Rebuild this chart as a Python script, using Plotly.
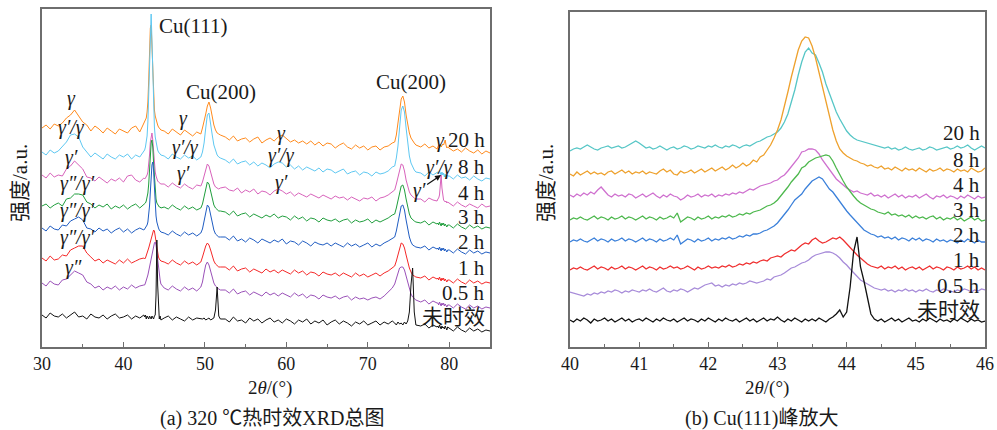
import itertools
import numpy as np
import plotly.graph_objects as go

# ---------------------------------------------------------------------------
# Full XRD scan (2θ = 30–85°): sampling segments (start, stop, points),
# denser around the diffraction peaks
# ---------------------------------------------------------------------------
SCAN_SEGMENTS = [(30.0, 42.5, 26), (42.6, 44.6, 21), (45.0, 49.5, 10),
                 (49.7, 51.9, 12), (52.5, 73.0, 42), (73.3, 75.9, 14),
                 (76.5, 78.5, 5), (78.6, 79.8, 13), (80.0, 85.0, 11)]
two_theta_full = np.concatenate([np.linspace(a, b, n) for a, b, n in SCAN_SEGMENTS])

# intensities (a.u., stacked with offsets), one sub-list per sampling segment
full_20h = [
    [219, 222, 218, 223, 221, 224, 229, 232, 237, 231, 225, 222, 216, 221, 218, 214, 219, 216, 213, 218, 216, 214, 219, 221, 215, 224],
    [225, 227, 229, 235, 245, 267, 297, 319, 322, 302, 267, 247, 237, 231, 227, 224, 222, 220, 219, 218, 217],
    [216, 213, 218, 215, 212, 217, 214, 211, 215, 213],
    [219, 225, 233, 241, 245, 239, 229, 222, 217, 214, 213, 212],
    [210, 207, 211, 206, 208, 209, 205, 208, 210, 204, 207, 209, 206, 210, 212, 208, 205, 207, 204, 206,
     203, 206, 202, 205, 201, 204, 203, 199, 202, 204, 200, 198, 202, 199, 201, 197, 200, 201, 197, 200, 201, 204],
    [205, 212, 223, 237, 248, 251, 245, 232, 221, 214, 209, 206, 204, 202],
    [200, 203, 199, 201, 198],
    [200, 202, 199, 203, 200, 201, 203, 202, 205, 207, 202, 199, 200],
    [199, 196, 198, 195, 199, 196, 194, 197, 193, 196, 194],
]
full_8h = [
    [195, 192, 197, 194, 196, 200, 205, 212, 213, 210, 200, 195, 190, 194, 191, 188, 193, 190, 188, 192, 190, 193, 188, 192, 190, 196],
    [197, 200, 204, 211, 225, 252, 292, 329, 333, 307, 267, 237, 220, 210, 204, 200, 197, 195, 194, 193, 192],
    [191, 188, 193, 190, 188, 192, 189, 191, 187, 190],
    [195, 204, 219, 232, 234, 225, 212, 202, 196, 192, 190, 189],
    [187, 184, 188, 183, 185, 186, 182, 185, 181, 184, 182, 179, 183, 185, 184, 180, 182, 178, 181, 177,
     180, 178, 176, 179, 175, 178, 177, 174, 176, 178, 173, 175, 176, 172, 175, 174, 171, 175, 173, 174, 176, 180],
    [181, 189, 201, 219, 237, 241, 235, 219, 202, 191, 184, 180, 177, 175],
    [174, 171, 175, 172, 174],
    [175, 173, 176, 174, 172, 175, 172, 174, 170, 173, 170, 172, 171],
    [171, 168, 172, 169, 170, 167, 171, 168, 166, 169, 168],
]
full_4h = [
    [172, 169, 174, 170, 172, 171, 178, 181, 186, 182, 178, 170, 169, 166, 170, 167, 164, 168, 166, 169, 165, 171, 172, 167, 165, 169],
    [168, 169, 170, 172, 175, 181, 192, 205, 213, 214, 207, 192, 181, 175, 171, 168, 166, 165, 164, 163, 163],
    [163, 160, 164, 161, 159, 163, 160, 158, 162, 161],
    [165, 171, 179, 183, 181, 174, 167, 163, 160, 159, 158, 159],
    [160, 157, 156, 159, 154, 157, 155, 158, 153, 156, 155, 152, 156, 158, 156, 153, 155, 151, 154, 152,
     150, 153, 151, 149, 152, 150, 148, 151, 149, 150, 147, 150, 148, 146, 149, 148, 150, 146, 149, 150, 152, 155],
    [157, 163, 170, 178, 183, 182, 176, 167, 160, 155, 152, 150, 149, 148],
    [148, 145, 149, 147, 146],
    [148, 149, 152, 161, 172, 159, 150, 147, 146, 145, 146, 144, 145],
    [144, 141, 145, 142, 140, 143, 141, 139, 143, 140, 141],
]
full_3h = [
    [141, 143, 139, 142, 144, 141, 148, 149, 153, 153, 152, 145, 143, 139, 142, 140, 143, 138, 141, 139, 142, 138, 141, 143, 139, 143],
    [143, 144, 146, 149, 154, 163, 177, 192, 204, 207, 200, 184, 167, 155, 148, 144, 142, 141, 140, 140, 139],
    [140, 138, 142, 139, 137, 141, 138, 140, 137, 139],
    [143, 150, 159, 165, 163, 155, 147, 142, 139, 137, 136, 136],
    [135, 132, 136, 131, 133, 134, 130, 133, 131, 129, 132, 130, 133, 129, 131, 130, 127, 131, 128, 130,
     126, 129, 128, 125, 129, 127, 126, 128, 125, 127, 128, 124, 127, 125, 126, 128, 124, 127, 125, 127, 129, 132],
    [133, 139, 146, 154, 161, 162, 157, 148, 139, 133, 129, 127, 126, 125],
    [124, 126, 122, 125, 123],
    [124, 122, 125, 123, 121, 124, 122, 124, 121, 123, 122, 120, 122],
    [122, 119, 123, 120, 118, 122, 119, 121, 118, 120, 119],
]
full_2h = [
    [119, 116, 121, 118, 117, 122, 121, 126, 128, 130, 127, 119, 118, 115, 119, 116, 118, 114, 117, 119, 115, 118, 114, 117, 119, 117],
    [118, 119, 120, 122, 125, 131, 141, 155, 170, 182, 185, 177, 160, 142, 131, 125, 121, 119, 117, 116, 115],
    [114, 112, 116, 113, 111, 115, 112, 114, 111, 114],
    [118, 126, 136, 142, 140, 132, 123, 117, 113, 111, 110, 110],
    [110, 107, 111, 106, 108, 105, 109, 107, 104, 108, 106, 104, 107, 105, 108, 103, 106, 105, 102, 106,
     104, 101, 105, 103, 102, 104, 101, 104, 102, 100, 104, 101, 103, 100, 102, 104, 100, 103, 101, 104, 106, 109],
    [110, 116, 124, 134, 141, 142, 137, 127, 117, 110, 105, 102, 101, 100],
    [99, 101, 97, 100, 98],
    [99, 97, 100, 98, 96, 99, 97, 99, 96, 98, 97, 95, 97],
    [97, 94, 98, 95, 93, 97, 94, 96, 93, 95, 94],
]
full_1h = [
    [89, 86, 91, 87, 88, 92, 91, 97, 99, 101, 101, 94, 90, 86, 88, 84, 87, 85, 83, 87, 84, 88, 84, 86, 88, 89],
    [88, 89, 91, 93, 96, 99, 102, 105, 109, 113, 116, 117, 116, 111, 104, 98, 93, 90, 88, 87, 86],
    [85, 83, 87, 84, 82, 86, 83, 85, 82, 85],
    [90, 96, 101, 104, 102, 97, 91, 86, 83, 81, 80, 80],
    [80, 77, 81, 76, 78, 79, 75, 78, 76, 74, 78, 75, 77, 74, 77, 75, 73, 77, 74, 76,
     72, 75, 74, 71, 75, 73, 72, 74, 71, 74, 72, 70, 74, 71, 73, 70, 72, 74, 71, 74, 76, 79],
    [81, 86, 93, 100, 104, 103, 99, 92, 85, 79, 75, 72, 71, 70],
    [69, 71, 67, 70, 68],
    [69, 67, 70, 68, 66, 69, 67, 69, 66, 68, 67, 65, 67],
    [67, 64, 68, 65, 63, 67, 64, 66, 63, 65, 64],
]
full_05h = [
    [64, 61, 66, 63, 62, 67, 68, 72, 76, 74, 72, 65, 63, 59, 61, 57, 60, 58, 61, 57, 60, 58, 62, 59, 61, 62],
    [62, 64, 66, 69, 72, 76, 80, 85, 90, 95, 99, 102, 104, 105, 102, 95, 87, 79, 72, 67, 63],
    [59, 57, 61, 58, 56, 60, 57, 59, 56, 60],
    [65, 74, 82, 85, 82, 76, 69, 64, 61, 59, 58, 57],
    [57, 54, 58, 53, 55, 56, 52, 55, 53, 51, 55, 52, 54, 51, 54, 52, 50, 54, 51, 53,
     49, 52, 51, 48, 52, 50, 49, 51, 48, 50, 51, 47, 50, 48, 49, 47, 49, 50, 48, 51, 55, 59],
    [63, 69, 75, 79, 80, 80, 77, 71, 64, 58, 53, 50, 48, 47],
    [45, 47, 43, 46, 44],
    [44, 42, 45, 43, 41, 44, 42, 44, 41, 43, 42, 40, 42],
    [42, 39, 43, 40, 38, 42, 39, 41, 38, 40, 39],
]
full_0h = [
    [32, 29, 34, 31, 30, 33, 29, 32, 35, 30, 31, 28, 33, 30, 29, 32, 28, 31, 33, 29, 30, 32, 28, 31, 29, 32],
    [30, 32, 28, 31, 30, 28, 31, 30, 28, 31, 30, 28, 31, 32, 52, 107, 62, 33, 28, 31, 27],
    [29, 31, 27, 30, 28, 26, 30, 27, 29, 28],
    [28, 29, 27, 28, 29, 27, 28, 29, 37, 60, 31, 28],
    [28, 25, 30, 26, 27, 24, 29, 26, 28, 24, 27, 29, 25, 27, 24, 28, 26, 23, 27, 25,
     28, 23, 26, 24, 27, 22, 25, 27, 23, 26, 24, 21, 25, 23, 26, 22, 24, 26, 22, 25, 23, 26],
    [24, 22, 25, 23, 24, 22, 25, 23, 26, 35, 62, 79, 35, 22],
    [21, 23, 19, 22, 20],
    [21, 19, 22, 20, 18, 21, 19, 20, 18, 21, 19, 17, 20],
    [19, 16, 20, 17, 15, 19, 16, 18, 15, 17, 16],
]

# ---------------------------------------------------------------------------
# Zoomed scan around the Cu(111) peak (2θ = 40–46°, step 0.05°)
# ---------------------------------------------------------------------------
two_theta_zoom = np.round(np.linspace(40.0, 46.0, 121), 2)

zoom_20h = [196, 198, 199, 198, 200, 202, 200, 198, 197, 199,
            200, 201, 199, 200, 201, 199, 200, 202, 204, 206,
            204, 201, 199, 200, 198, 199, 201, 199, 197, 199,
            200, 198, 199, 201, 200, 198, 199, 201, 200, 199,
            201, 200, 202, 200, 199, 201, 200, 202, 201, 199,
            201, 202, 201, 203, 205, 206, 208, 210, 211, 213,
            215, 219, 225, 233, 244, 257, 272, 285, 295, 299,
            294, 292, 284, 275, 263, 253, 243, 235, 228, 222,
            216, 212, 209, 207, 206, 205, 204, 203, 202, 201,
            200, 199, 200, 198, 199, 197, 198, 200, 198, 197,
            198, 199, 197, 198, 200, 199, 197, 198, 199, 200,
            198, 199, 201, 199, 200, 202, 199, 197, 199, 201,
            199]
zoom_8h = [173, 171, 175, 172, 174, 176, 173, 175, 173, 174,
           172, 175, 176, 173, 175, 177, 174, 176, 173, 175,
           174, 176, 173, 175, 174, 173, 176, 178, 175, 177,
           173, 172, 176, 174, 175, 177, 174, 176, 178, 175,
           177, 179, 176, 178, 180, 177, 179, 182, 179, 181,
           184, 181, 183, 187, 185, 190, 192, 197, 202, 209,
           217, 227, 240, 255, 270, 284, 297, 306, 310, 309,
           301, 289, 275, 260, 245, 230, 217, 206, 198, 194,
           191, 189, 187, 186, 184, 183, 181, 182, 180, 179,
           181, 178, 179, 177, 180, 178, 176, 179, 177, 178,
           176, 179, 177, 175, 178, 176, 177, 179, 176, 178,
           177, 175, 178, 176, 177, 175, 179, 177, 175, 176,
           179]
zoom_4h = [152, 150, 153, 151, 154, 152, 155, 153, 157, 160,
           156, 152, 150, 153, 151, 152, 150, 153, 152, 149,
           151, 153, 150, 152, 154, 151, 149, 152, 150, 153,
           151, 150, 147, 149, 152, 150, 151, 153, 150, 152,
           151, 153, 150, 152, 151, 153, 152, 154, 153, 155,
           154, 156, 158, 157, 159, 161, 162, 163, 164, 166,
           167, 170, 172, 176, 180, 185, 189, 195, 196, 198,
           198, 197, 193, 187, 182, 177, 172, 168, 165, 162,
           159, 157, 155, 156, 154, 153, 152, 154, 151, 152,
           150, 152, 149, 151, 153, 150, 152, 149, 151, 150,
           152, 149, 151, 153, 150, 148, 151, 150, 152, 149,
           151, 150, 148, 151, 149, 152, 150, 148, 151, 149,
           150]
zoom_3h = [127, 129, 128, 130, 128, 127, 129, 131, 128, 130,
           129, 127, 130, 128, 129, 131, 128, 130, 129, 127,
           129, 131, 128, 130, 129, 127, 130, 128, 129, 131,
           129, 134, 125, 128, 130, 129, 127, 130, 128, 129,
           131, 128, 130, 129, 131, 130, 132, 130, 131, 133,
           132, 134, 133, 135, 136, 137, 139, 141, 142, 144,
           147, 151, 155, 160, 165, 169, 173, 179, 181, 185,
           187, 189, 190, 191, 192, 191, 186, 179, 172, 166,
           160, 155, 151, 147, 144, 142, 140, 138, 137, 135,
           134, 133, 135, 132, 133, 131, 132, 130, 132, 129,
           131, 129, 130, 128, 130, 131, 128, 130, 127, 129,
           128, 130, 127, 129, 126, 128, 130, 127, 129, 126,
           127]
zoom_2h = [105, 107, 106, 108, 106, 105, 107, 109, 106, 108,
           107, 105, 108, 106, 107, 109, 106, 108, 107, 105,
           107, 109, 106, 108, 107, 105, 108, 106, 107, 109,
           107, 112, 103, 106, 108, 107, 105, 108, 106, 107,
           109, 106, 108, 107, 109, 108, 110, 108, 109, 111,
           110, 112, 111, 113, 113, 114, 116, 117, 119, 121,
           124, 128, 133, 137, 142, 147, 150, 153, 158, 162,
           166, 168, 170, 168, 163, 158, 155, 150, 145, 140,
           136, 132, 128, 124, 120, 117, 115, 113, 112, 110,
           111, 109, 110, 108, 110, 107, 109, 108, 106, 109,
           107, 109, 106, 108, 107, 105, 108, 106, 107, 105,
           107, 106, 104, 107, 105, 108, 106, 104, 107, 105,
           105]
zoom_1h = [77, 79, 78, 80, 78, 77, 79, 81, 78, 80,
           79, 77, 80, 78, 79, 81, 78, 80, 79, 77,
           79, 81, 78, 80, 79, 77, 80, 78, 79, 81,
           79, 80, 78, 79, 81, 79, 77, 80, 78, 79,
           81, 79, 80, 79, 81, 80, 82, 80, 81, 83,
           82, 84, 83, 85, 84, 86, 87, 86, 89, 90,
           91, 90, 93, 95, 97, 96, 99, 102, 104, 103,
           107, 109, 106, 104, 105, 107, 109, 108, 110, 107,
           103, 99, 95, 92, 89, 86, 83, 81, 80, 79,
           81, 78, 80, 79, 81, 78, 80, 77, 79, 80,
           78, 80, 77, 79, 81, 78, 80, 79, 77, 80,
           79, 77, 80, 78, 79, 81, 78, 80, 77, 79,
           77]
zoom_05h = [55, 54, 53, 52, 51, 53, 52, 54, 53, 55,
            54, 56, 55, 57, 56, 54, 56, 55, 57, 56,
            55, 57, 56, 58, 56, 55, 57, 59, 56, 55,
            57, 56, 58, 57, 55, 57, 59, 58, 60, 62,
            63, 64, 61, 62, 60, 62, 61, 63, 62, 64,
            63, 64, 66, 65, 64, 65, 66, 68, 67, 70,
            71, 72, 74, 77, 79, 80, 82, 84, 85, 87,
            90, 92, 93, 94, 95, 95, 94, 92, 89, 85,
            82, 78, 74, 70, 67, 65, 63, 61, 59, 58,
            57, 58, 56, 57, 55, 57, 56, 58, 56, 57,
            55, 57, 56, 58, 56, 55, 57, 56, 58, 57,
            56, 55, 57, 56, 58, 57, 55, 57, 56, 58,
            57]
zoom_0h = [27, 25, 28, 26, 29, 27, 24, 28, 26, 27,
           29, 26, 28, 25, 27, 29, 26, 28, 25, 27,
           28, 26, 29, 27, 25, 28, 26, 29, 27, 26,
           28, 25, 27, 29, 26, 28, 27, 25, 28, 26,
           29, 27, 25, 28, 26, 29, 27, 26, 28, 25,
           27, 29, 26, 28, 25, 27, 29, 26, 28, 27,
           30, 27, 25, 28, 26, 29, 27, 25, 28, 26,
           28, 26, 29, 27, 25, 28, 30, 33, 37, 30,
           35, 60, 95, 110, 80, 66, 50, 33, 28, 26,
           28, 25, 27, 29, 26, 28, 25, 27, 29, 26,
           27, 25, 28, 26, 29, 27, 25, 28, 26, 27,
           25, 28, 26, 29, 27, 25, 28, 26, 27, 25,
           26]

aging_labels = ["20 h", "8 h", "4 h", "3 h", "2 h", "1 h", "0.5 h", "未时效"]
full_series = [full_20h, full_8h, full_4h, full_3h, full_2h, full_1h, full_05h, full_0h]
zoom_series = [zoom_20h, zoom_8h, zoom_4h, zoom_3h, zoom_2h, zoom_1h, zoom_05h, zoom_0h]

full_colors = ["#ff8a1c", "#5ec8f2", "#d862bb", "#1f9e3c", "#1f5cc2", "#f52828", "#9a50b8", "#111111"]
zoom_colors = ["#56c6c6", "#eea12d", "#cf70cf", "#4db84d", "#3b80da", "#ef2f2f", "#a78bd9", "#111111"]

SERIF = "Liberation Serif, Noto Sans CJK SC, serif"
TXT = "#1a1a1a"

fig = go.Figure()

for label, segs, color in zip(aging_labels, full_series, full_colors):
    y = list(itertools.chain.from_iterable(segs))
    if len(y) != len(two_theta_full):
        raise ValueError(f"{label}: {len(y)} points")
    fig.add_trace(go.Scatter(x=two_theta_full, y=y, mode="lines", name=label,
                             line=dict(color=color, width=1.0), xaxis="x", yaxis="y"))

for label, y, color in zip(aging_labels, zoom_series, zoom_colors):
    if len(y) != len(two_theta_zoom):
        raise ValueError(f"{label} (zoom): {len(y)} points")
    fig.add_trace(go.Scatter(x=two_theta_zoom, y=y, mode="lines", name=label,
                             line=dict(color=color, width=1.3), xaxis="x2", yaxis="y2"))

frame = dict(showline=True, mirror=True, linecolor="#6e6e6e", linewidth=1.5,
             showgrid=False, zeroline=False, automargin=False)
xtick = dict(ticks="inside", ticklen=5, tickwidth=1.2, tickcolor="#6e6e6e",
             tickfont=dict(family=SERIF, size=18, color=TXT))

W, H = 997, 430
def px(xp):
    return xp / W
def py(yp):
    return 1 - yp / H

fig.update_layout(
    width=W, height=H, margin=dict(l=0, r=0, t=0, b=0, autoexpand=False),
    paper_bgcolor="white", plot_bgcolor="white", showlegend=False,
    xaxis=dict(domain=[px(42), px(490)], range=[30, 85], tick0=30, dtick=10,
               minor=dict(ticks="inside", ticklen=3, dtick=5, tickcolor="#6e6e6e"),
               anchor="y", **frame, **xtick),
    yaxis=dict(domain=[py(347), py(9)], range=[0, 338], showticklabels=False,
               ticks="", anchor="x", **frame),
    xaxis2=dict(domain=[px(570), px(985)], range=[40, 46], tick0=40, dtick=1,
                minor=dict(ticks="inside", ticklen=3, dtick=0.5, tickcolor="#6e6e6e"),
                anchor="y2", **frame, **xtick),
    yaxis2=dict(domain=[py(347), py(12)], range=[0, 335], showticklabels=False,
                ticks="", anchor="x2", **frame),
)

ann = []

def note(text, x, y, xref, yref, size=21, xanchor="center", **kw):
    ann.append(dict(text=text, x=x, y=y, xref=xref, yref=yref, showarrow=False,
                    xanchor=xanchor, yanchor="middle",
                    font=dict(family=SERIF, size=size, color=TXT), **kw))

# peak labels, full scan
note("Cu(111)", 44.12, 321, "x", "y", xanchor="left")
note("Cu(200)", 51.98, 255, "x", "y")
note("Cu(200)", 75.30, 265, "x", "y")

# phase labels, full scan
phase_labels = [
    ("γ", 33.68, 249), ("γ′/γ", 33.68, 220), ("γ′", 33.68, 190),
    ("γ″/γ′", 34.30, 164), ("γ″/γ′", 34.30, 137), ("γ″/γ′", 34.30, 110), ("γ″", 33.81, 80),
    ("γ", 47.31, 229), ("γ′/γ", 47.56, 200), ("γ′", 47.31, 174),
    ("γ", 59.46, 214), ("γ′/γ", 59.46, 192), ("γ′", 59.46, 165),
    ("γ", 78.90, 207), ("γ′/γ", 78.75, 180),
]
for text, x, y in phase_labels:
    note(f"<i>{text}</i>", x, y, "x", "y", size=20)

ann.append(dict(text="<i>γ′</i>", x=78.99, y=172, ax=76.30, ay=157, xref="x", yref="y",
                axref="x", ayref="y", showarrow=True, arrowhead=2, arrowsize=1,
                arrowwidth=1.2, arrowcolor="#111", standoff=0,
                font=dict(family=SERIF, size=20, color=TXT)))

# aging-time labels
full_label_y = [207, 180, 154, 130, 105, 79, 54, 30]
zoom_label_y = [214, 187, 162, 137, 112, 87, 61, 37]
for text, yl in zip(aging_labels, full_label_y):
    note(text, 84.63, yl, "x", "y", xanchor="right")
for text, yl in zip(aging_labels, zoom_label_y):
    note(text, 45.96, yl, "x2", "y2", xanchor="right")

# axis titles and captions
for xc in (270, 767):
    note("2<i>θ</i>/(°)", px(xc), py(388), "paper", "paper", size=19)
for xc in (20, 546):
    note("强度/a.u.", px(xc), py(183), "paper", "paper", size=21, textangle=-90)
note("(a) 320 ℃热时效XRD总图", px(272), py(418), "paper", "paper", size=20)
note("(b) Cu(111)峰放大", px(762), py(418), "paper", "paper", size=20)

fig.update_layout(annotations=ann)
fig.write_html("out.html")
